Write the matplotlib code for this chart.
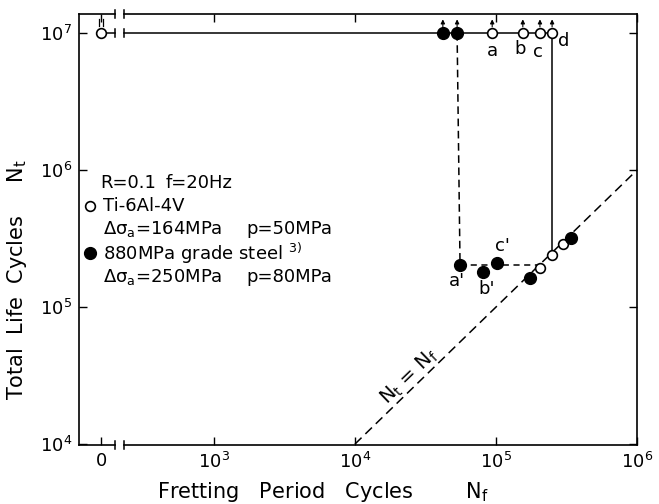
import numpy as np
import matplotlib.pyplot as plt
from matplotlib.transforms import blended_transform_factory

# ---- data ----
zero_x = 10 ** 2.2          # where the "0" sits on the broken log axis
break_x = [10 ** 2.30, 10 ** 2.36]
run_out = 1e7

ti_run_x = [9.4e4, 1.55e5, 2.05e5, 2.5e5]
ti_run_labels = ['a', 'b', 'c', 'd']
steel_run_x = [4.2e4, 5.3e4]

steel_fail_x = [5.56e4, 8.1e4, 1.02e5]
steel_fail_y = [2.03e5, 1.8e5, 2.1e5]
steel_fail_labels = ["a'", "b'", "c'"]

ti_fail_x = [2.05e5, 2.5e5, 2.99e5]
ti_fail_y = [1.93e5, 2.4e5, 2.88e5]
steel_diag_x = [1.74e5, 3.4e5]
steel_diag_y = [1.63e5, 3.19e5]

diag_x = [1e4, 1e6]
x_ticks = [zero_x, 1e3, 1e4, 1e5, 1e6]
x_tick_labels = ['0', '$10^3$', '$10^4$', '$10^5$', '$10^6$']
y_ticks = [1e4, 1e5, 1e6, 1e7]
y_tick_labels = ['$10^4$', '$10^5$', '$10^6$', '$10^7$']

plt.rcParams['font.family'] = 'DejaVu Sans'
plt.rcParams['mathtext.default'] = 'regular'

fig = plt.figure(figsize=(6.59, 5.04), dpi=100)
ax = fig.add_axes([79 / 659, 1 - 445 / 504, 558 / 659, 431 / 504])
ax.set_xscale('log')
ax.set_yscale('log')
ax.set_xlim(10 ** 2.043, 1e6)
ax.set_ylim(10 ** 3.993, 10 ** 7.139)

lw = 1.1
# run-out line at 1e7 with break
ax.plot([zero_x, break_x[0]], [run_out, run_out], 'k-', lw=lw, zorder=1)
ax.plot([break_x[1], ti_run_x[-1]], [run_out, run_out], 'k-', lw=lw, zorder=1)
for bx in break_x:
    ax.plot([bx, bx], [10 ** 6.97, 10 ** 7.03], 'k-', lw=lw)

# connecting lines
ax.plot([steel_run_x[1], steel_fail_x[0]], [run_out, steel_fail_y[0]],
        'k--', lw=lw, dashes=(5, 3), zorder=1)
ax.plot([steel_fail_x[0], ti_fail_x[0]], [steel_fail_y[0], steel_fail_y[0]],
        'k--', lw=lw, dashes=(4, 3), zorder=1)
ax.plot([ti_run_x[-1], ti_fail_x[1]], [run_out, ti_fail_y[1]], 'k-', lw=lw, zorder=1)
ax.plot(diag_x, diag_x, 'k--', lw=lw, dashes=(6, 3.5), zorder=1)

# points
ax.plot([zero_x] + ti_run_x, [run_out] * 5, 'o', ms=7, mfc='white', mec='black', mew=1.2)
ax.plot(steel_run_x, [run_out] * 2, 'o', ms=8.5, color='black')
ax.plot(ti_fail_x, ti_fail_y, 'o', ms=7, mfc='white', mec='black', mew=1.2)
ax.plot(steel_fail_x + steel_diag_x, steel_fail_y + steel_diag_y, 'o', ms=8.5, color='black')

# run-out arrows
for x in steel_run_x + ti_run_x:
    ax.annotate('', xy=(x, 10 ** 7.10), xytext=(x, 10 ** 7.045),
                arrowprops=dict(arrowstyle='-|>', color='black', lw=0.8,
                                mutation_scale=6, shrinkA=0, shrinkB=0))
for dx in (-0.012, 0.012):
    ax.plot([zero_x * 10 ** dx] * 2, [10 ** 7.05, 10 ** 7.10], 'k-', lw=0.9)

# point labels
ti_offsets = [(0, -18), (-3, -16), (-2, -19), (12, -8)]
for x, lab, off in zip(ti_run_x, ti_run_labels, ti_offsets):
    ax.annotate(lab, (x, run_out), xytext=off, textcoords='offset pixels',
                ha='center', va='center', fontsize=13)
steel_offsets = [(-3, -16), (4, -17), (5, 17)]
for x, y, lab, off in zip(steel_fail_x, steel_fail_y, steel_fail_labels, steel_offsets):
    ax.annotate(lab, (x, y), xytext=off, textcoords='offset pixels',
                ha='center', va='center', fontsize=13)

ax.text(2.75e4, 2.75e4, 'N$_t$ = N$_f$', rotation=44, rotation_mode='anchor',
        ha='center', va='bottom', fontsize=14)

# legend block
def fx(px):
    return (px - 79) / 558


def fy(py):
    return (445 - py) / 431


fs = 13
ax.text(fx(100), fy(183), 'R=0.1', transform=ax.transAxes, va='center', fontsize=fs)
ax.text(fx(166), fy(183), 'f=20Hz', transform=ax.transAxes, va='center', fontsize=fs)
ax.plot([fx(90)], [fy(206)], 'o', ms=7, mfc='white', mec='black', mew=1.2,
        transform=ax.transAxes, clip_on=False)
ax.text(fx(103), fy(206), 'Ti-6Al-4V', transform=ax.transAxes, va='center', fontsize=fs)
ax.text(fx(103), fy(229), r'$\Delta\sigma_a$=164MPa', transform=ax.transAxes, va='center', fontsize=fs)
ax.text(fx(246), fy(229), 'p=50MPa', transform=ax.transAxes, va='center', fontsize=fs)
ax.plot([fx(90)], [fy(253)], 'o', ms=8.5, color='black', transform=ax.transAxes, clip_on=False)
ax.text(fx(103), fy(253), '880MPa grade steel $^{3)}$', transform=ax.transAxes, va='center', fontsize=fs)
ax.text(fx(103), fy(277), r'$\Delta\sigma_a$=250MPa', transform=ax.transAxes, va='center', fontsize=fs)
ax.text(fx(246), fy(277), 'p=80MPa', transform=ax.transAxes, va='center', fontsize=fs)

# axes / spines with break on horizontal spines
ax.spines['top'].set_visible(False)
ax.spines['bottom'].set_visible(False)
for s in ('left', 'right'):
    ax.spines[s].set_linewidth(1.2)
tr = blended_transform_factory(ax.transData, ax.transAxes)
xl = ax.get_xlim()
for yy in (0, 1):
    ax.plot([xl[0], break_x[0]], [yy, yy], 'k-', lw=1.2, transform=tr, clip_on=False)
    ax.plot([break_x[1], xl[1]], [yy, yy], 'k-', lw=1.2, transform=tr, clip_on=False)
    for bx in break_x:
        ax.plot([bx, bx], [yy - 0.01, yy + 0.01], 'k-', lw=1.1, transform=tr, clip_on=False)

ax.set_xticks(x_ticks)
ax.set_xticklabels(x_tick_labels)
ax.set_yticks(y_ticks)
ax.set_yticklabels(y_tick_labels)
ax.minorticks_off()
ax.tick_params(direction='in', length=6, width=1, labelsize=13, top=True, right=True, pad=5)

ax.set_xlabel('Fretting   Period   Cycles        N$_f$', fontsize=15)
ax.set_ylabel('Total  Life  Cycles     N$_t$', fontsize=15)
ax.xaxis.set_label_coords(fx(323), fy(480))
ax.yaxis.set_label_coords(fx(29), fy(280))

fig.savefig('out.png', dpi=100)
